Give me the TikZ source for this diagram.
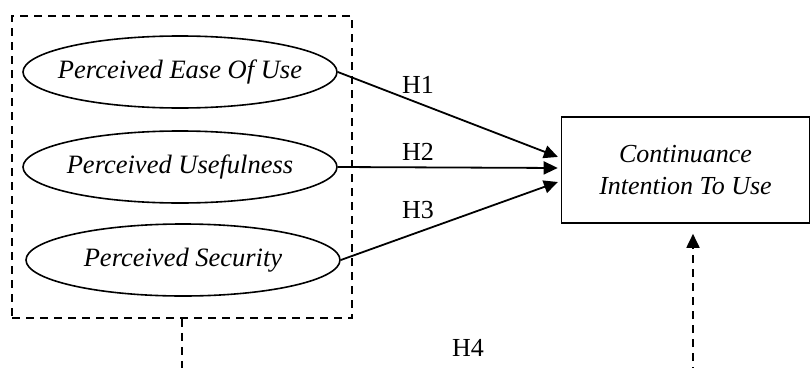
\documentclass[tikz,border=0pt]{standalone}
\usepackage{fontspec}
\setmainfont{Liberation Serif}
\usetikzlibrary{arrows.meta,shapes.geometric,calc}
\begin{document}
\begin{tikzpicture}[x=1pt,y=-1pt,
 lbl/.style={font=\fontsize{26}{30}\selectfont},
 construct/.style={ellipse,draw,line width=1.6pt,minimum width=314pt,minimum height=72pt,inner xsep=-15pt,inner ysep=0pt,font=\fontsize{26.5}{30}\selectfont\itshape},
 outcome/.style={draw,line width=1.6pt,minimum width=248pt,minimum height=106pt,inner sep=0pt,align=center,font=\fontsize{26}{32}\selectfont\itshape},
 hyp/.style={line width=1.8pt,-{Triangle[length=14pt,width=13pt]},shorten >=3pt},
 dashln/.style={line width=1.8pt,dash pattern=on 8pt off 6pt},
 groupbox/.style={draw,dashln,inner sep=0pt},
]
\useasboundingbox (0,0) rectangle (811,367);
\node[groupbox,minimum width=340pt,minimum height=302pt] (grp) at (182,167) {};
\node[construct] (peou) at (180,72) {Perceived Ease Of Use};
\node[construct] (pu) at (180,167) {Perceived Usefulness};
\node[construct] (ps) at (183,260) {Perceived Security};
\node[outcome] (ciu) at (685.5,170) {Continuance\\Intention To Use};
\node[lbl] (h1) at (418,85) {H1};
\node[lbl] (h2) at (418,152) {H2};
\node[lbl] (h3) at (418,210) {H3};
\node[lbl] (h4) at (468,348) {H4};
\draw[hyp] (peou.east) -- ($(ciu.west)+(0,-12)$);
\draw[hyp] (pu.east) -- ($(ciu.west)+(0,-2)$);
\draw[hyp] (ps.east) -- ($(ciu.west)+(0,11)$);
\coordinate (b1) at (182,375);
\coordinate (b2) at (693,375);
\draw[dashln] (grp.south) -- (b1);
\draw[dashln,-{Triangle[length=14pt,width=13pt]},shorten >=10pt] (b2) -- (b2 |- ciu.south);
\end{tikzpicture}
\end{document}
